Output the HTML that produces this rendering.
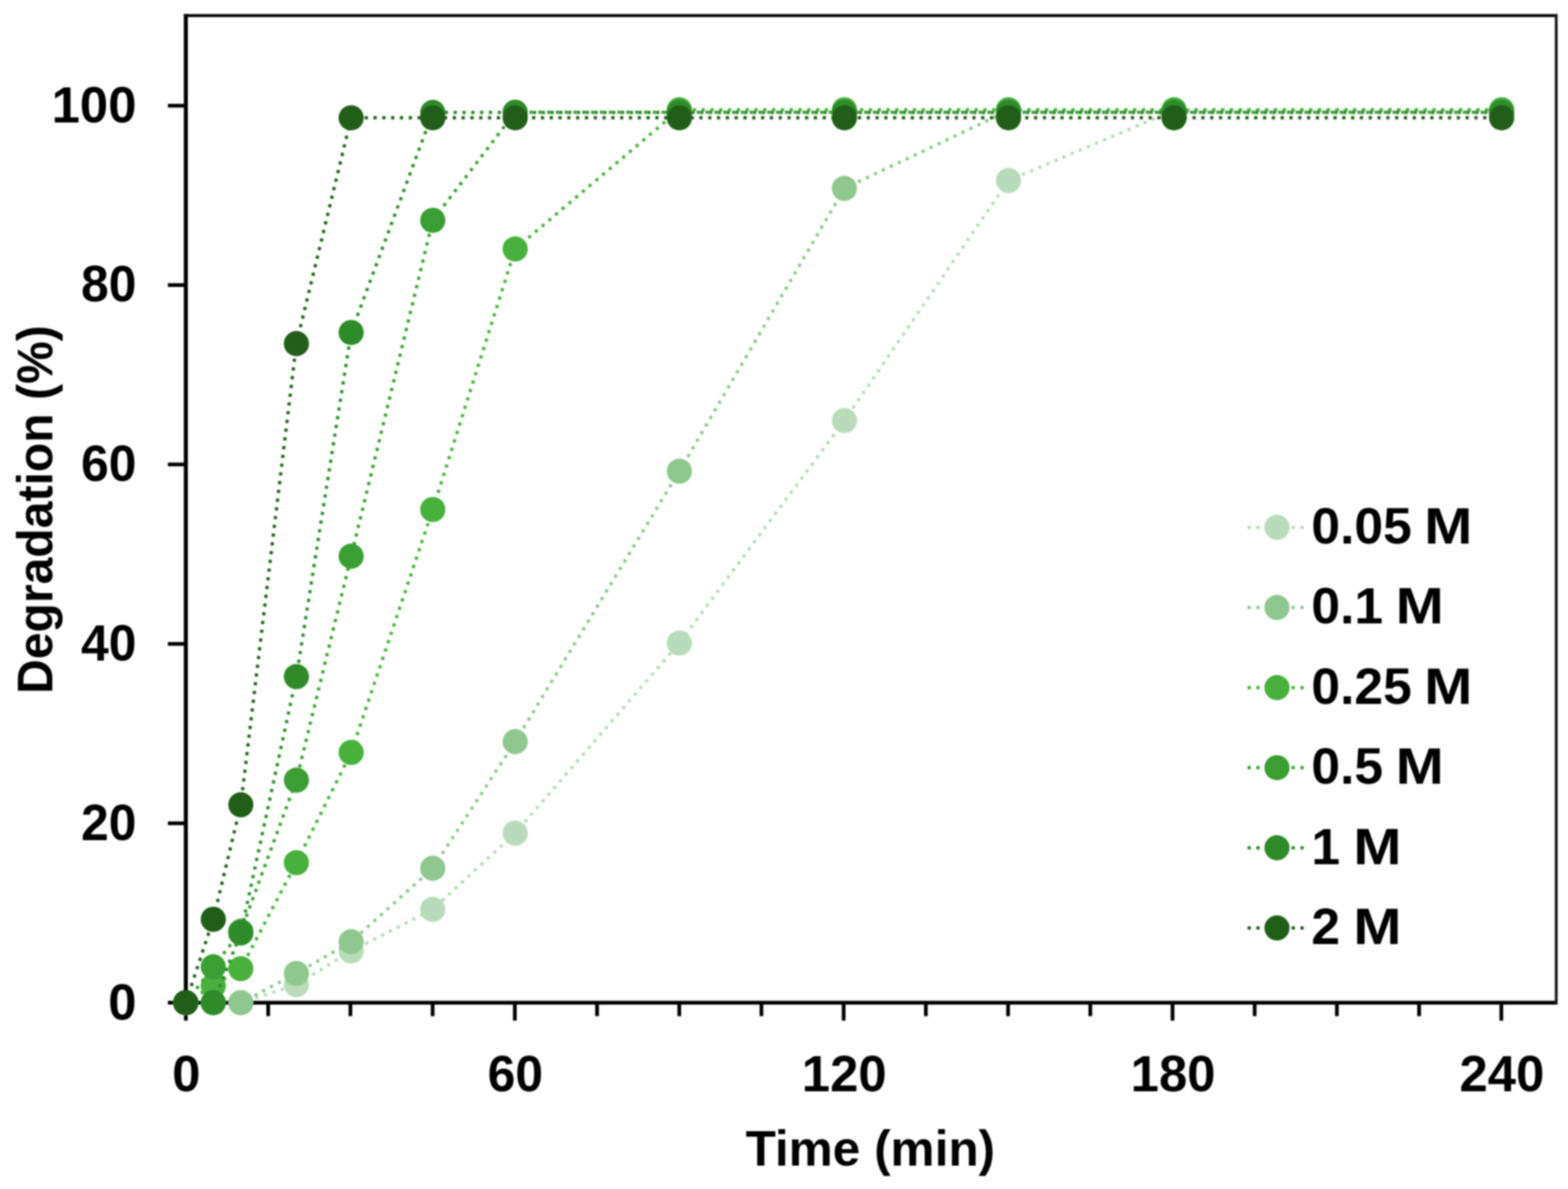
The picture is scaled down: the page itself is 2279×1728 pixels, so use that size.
<!DOCTYPE html>
<html lang="en"><head><meta charset="utf-8"><title>Degradation (%) vs Time (min)</title>
<style>
html,body{margin:0;padding:0;background:#fff;}
body{width:2279px;height:1728px;overflow:hidden;}
svg{display:block;filter:blur(0.9px);}
text{font-family:'Liberation Sans', Arial, Helvetica, sans-serif;font-weight:bold;fill:#000;}
</style></head><body>
<svg width="2279" height="1728" viewBox="0 0 2279 1728">
<rect x="-10" y="-10" width="2299" height="1748" fill="#ffffff"/>
<g id="axes" stroke="#000" fill="none" stroke-linecap="butt">
<line x1="270.1" y1="20.4" x2="270.1" y2="1459.9" stroke-width="5.8"/>
<line x1="267.2" y1="1457.2" x2="2264.0" y2="1457.2" stroke-width="5.4"/>
<line x1="267.2" y1="22.6" x2="2264.0" y2="22.6" stroke-width="4.4"/>
<line x1="2261.9" y1="20.4" x2="2261.9" y2="1459.9" stroke-width="4.2" stroke="#1c1c1c"/>
<line x1="244" y1="1457.2" x2="270.1" y2="1457.2" stroke-width="5.4"/>
<line x1="244" y1="1196.5" x2="270.1" y2="1196.5" stroke-width="5.4"/>
<line x1="244" y1="935.8" x2="270.1" y2="935.8" stroke-width="5.4"/>
<line x1="244" y1="675.0" x2="270.1" y2="675.0" stroke-width="5.4"/>
<line x1="244" y1="414.3" x2="270.1" y2="414.3" stroke-width="5.4"/>
<line x1="244" y1="153.6" x2="270.1" y2="153.6" stroke-width="5.4"/>
<line x1="270.1" y1="1457.2" x2="270.1" y2="1483.3" stroke-width="5.4"/>
<line x1="389.8" y1="1457.2" x2="389.8" y2="1476.8" stroke-width="5.4"/>
<line x1="509.3" y1="1457.2" x2="509.3" y2="1476.8" stroke-width="5.4"/>
<line x1="628.8" y1="1457.2" x2="628.8" y2="1476.8" stroke-width="5.4"/>
<line x1="748.3" y1="1457.2" x2="748.3" y2="1483.3" stroke-width="5.4"/>
<line x1="867.8" y1="1457.2" x2="867.8" y2="1476.8" stroke-width="5.4"/>
<line x1="987.3" y1="1457.2" x2="987.3" y2="1476.8" stroke-width="5.4"/>
<line x1="1106.7" y1="1457.2" x2="1106.7" y2="1476.8" stroke-width="5.4"/>
<line x1="1226.2" y1="1457.2" x2="1226.2" y2="1483.3" stroke-width="5.4"/>
<line x1="1345.7" y1="1457.2" x2="1345.7" y2="1476.8" stroke-width="5.4"/>
<line x1="1465.2" y1="1457.2" x2="1465.2" y2="1476.8" stroke-width="5.4"/>
<line x1="1584.7" y1="1457.2" x2="1584.7" y2="1476.8" stroke-width="5.4"/>
<line x1="1704.2" y1="1457.2" x2="1704.2" y2="1483.3" stroke-width="5.4"/>
<line x1="1823.6" y1="1457.2" x2="1823.6" y2="1476.8" stroke-width="5.4"/>
<line x1="1943.1" y1="1457.2" x2="1943.1" y2="1476.8" stroke-width="5.4"/>
<line x1="2062.6" y1="1457.2" x2="2062.6" y2="1476.8" stroke-width="5.4"/>
<line x1="2182.1" y1="1457.2" x2="2182.1" y2="1483.3" stroke-width="5.4"/>
</g>
<g id="series">
<g fill="#b8dcb9" stroke="none">
<polyline points="270.0,1457.2 310.0,1457.2 350.0,1457.2 430.8,1431.1 510.4,1382.1 629.0,1321.6 748.8,1210.8 987.4,934.5 1227.3,611.2 1465.8,262.3 1706.4,160.1 2182.5,160.1" fill="none" stroke="#b8dcb9" stroke-width="4.7" stroke-dasharray="4.7 8.1" stroke-linejoin="round"/>
<circle cx="270.0" cy="1457.2" r="18.3"/>
<circle cx="310.0" cy="1457.2" r="18.3"/>
<circle cx="350.0" cy="1457.2" r="18.3"/>
<circle cx="430.8" cy="1431.1" r="18.3"/>
<circle cx="510.4" cy="1382.1" r="18.3"/>
<circle cx="629.0" cy="1321.6" r="18.3"/>
<circle cx="748.8" cy="1210.8" r="18.3"/>
<circle cx="987.4" cy="934.5" r="18.3"/>
<circle cx="1227.3" cy="611.2" r="18.3"/>
<circle cx="1465.8" cy="262.3" r="18.3"/>
<circle cx="1706.4" cy="160.1" r="18.3"/>
<circle cx="2182.5" cy="160.1" r="18.3"/>
</g>
<g fill="#8ec88e" stroke="none">
<polyline points="270.0,1457.2 310.0,1457.2 350.0,1457.2 430.8,1414.7 510.4,1368.6 629.0,1261.9 748.8,1077.9 987.4,684.8 1227.3,273.8 1465.8,160.8 1706.4,160.8 2182.5,160.8" fill="none" stroke="#8ec88e" stroke-width="4.7" stroke-dasharray="4.7 8.1" stroke-linejoin="round"/>
<circle cx="270.0" cy="1457.2" r="18.3"/>
<circle cx="310.0" cy="1457.2" r="18.3"/>
<circle cx="350.0" cy="1457.2" r="18.3"/>
<circle cx="430.8" cy="1414.7" r="18.3"/>
<circle cx="510.4" cy="1368.6" r="18.3"/>
<circle cx="629.0" cy="1261.9" r="18.3"/>
<circle cx="748.8" cy="1077.9" r="18.3"/>
<circle cx="987.4" cy="684.8" r="18.3"/>
<circle cx="1227.3" cy="273.8" r="18.3"/>
<circle cx="1465.8" cy="160.8" r="18.3"/>
<circle cx="1706.4" cy="160.8" r="18.3"/>
<circle cx="2182.5" cy="160.8" r="18.3"/>
</g>
<g fill="#47b13c" stroke="none">
<polyline points="270.0,1457.2 310.0,1432.8 350.0,1407.8 430.8,1253.8 510.4,1093.5 629.0,740.5 748.8,361.8 987.4,159.5 1227.3,159.5 1465.8,159.5 1706.4,159.5 2182.5,159.5" fill="none" stroke="#47b13c" stroke-width="4.7" stroke-dasharray="4.7 8.1" stroke-linejoin="round"/>
<circle cx="270.0" cy="1457.2" r="18.3"/>
<circle cx="310.0" cy="1432.8" r="18.3"/>
<circle cx="350.0" cy="1407.8" r="18.3"/>
<circle cx="430.8" cy="1253.8" r="18.3"/>
<circle cx="510.4" cy="1093.5" r="18.3"/>
<circle cx="629.0" cy="740.5" r="18.3"/>
<circle cx="748.8" cy="361.8" r="18.3"/>
<circle cx="987.4" cy="159.5" r="18.3"/>
<circle cx="1227.3" cy="159.5" r="18.3"/>
<circle cx="1465.8" cy="159.5" r="18.3"/>
<circle cx="1706.4" cy="159.5" r="18.3"/>
<circle cx="2182.5" cy="159.5" r="18.3"/>
</g>
<g fill="#3a9f33" stroke="none">
<polyline points="270.0,1457.2 310.0,1405.1 350.0,1353.6 430.8,1133.8 510.4,808.4 629.0,320.2 748.8,163.1 987.4,163.1 1227.3,163.1 1465.8,163.1 1706.4,163.1 2182.5,163.1" fill="none" stroke="#3a9f33" stroke-width="4.7" stroke-dasharray="4.7 8.1" stroke-linejoin="round"/>
<circle cx="270.0" cy="1457.2" r="18.3"/>
<circle cx="310.0" cy="1405.1" r="18.3"/>
<circle cx="350.0" cy="1353.6" r="18.3"/>
<circle cx="430.8" cy="1133.8" r="18.3"/>
<circle cx="510.4" cy="808.4" r="18.3"/>
<circle cx="629.0" cy="320.2" r="18.3"/>
<circle cx="748.8" cy="163.1" r="18.3"/>
<circle cx="987.4" cy="163.1" r="18.3"/>
<circle cx="1227.3" cy="163.1" r="18.3"/>
<circle cx="1465.8" cy="163.1" r="18.3"/>
<circle cx="1706.4" cy="163.1" r="18.3"/>
<circle cx="2182.5" cy="163.1" r="18.3"/>
</g>
<g fill="#2e8b2a" stroke="none">
<polyline points="270.0,1457.2 310.0,1457.2 350.0,1355.9 430.8,983.3 510.4,483.2 629.0,163.4 748.8,163.4 987.4,163.4 1227.3,163.4 1465.8,163.4 1706.4,163.4 2182.5,163.4" fill="none" stroke="#2e8b2a" stroke-width="4.7" stroke-dasharray="4.7 8.1" stroke-linejoin="round"/>
<circle cx="270.0" cy="1457.2" r="18.3"/>
<circle cx="310.0" cy="1457.2" r="18.3"/>
<circle cx="350.0" cy="1355.9" r="18.3"/>
<circle cx="430.8" cy="983.3" r="18.3"/>
<circle cx="510.4" cy="483.2" r="18.3"/>
<circle cx="629.0" cy="163.4" r="18.3"/>
<circle cx="748.8" cy="163.4" r="18.3"/>
<circle cx="987.4" cy="163.4" r="18.3"/>
<circle cx="1227.3" cy="163.4" r="18.3"/>
<circle cx="1465.8" cy="163.4" r="18.3"/>
<circle cx="1706.4" cy="163.4" r="18.3"/>
<circle cx="2182.5" cy="163.4" r="18.3"/>
</g>
<g fill="#215f18" stroke="none">
<polyline points="270.0,1457.2 310.0,1336.0 350.0,1169.6 430.8,499.4 510.4,171.2 629.0,171.2 748.8,171.2 987.4,171.2 1227.3,171.2 1465.8,171.2 1706.4,171.2 2182.5,171.2" fill="none" stroke="#215f18" stroke-width="4.7" stroke-dasharray="4.7 8.1" stroke-linejoin="round"/>
<circle cx="270.0" cy="1457.2" r="18.3"/>
<circle cx="310.0" cy="1336.0" r="18.3"/>
<circle cx="350.0" cy="1169.6" r="18.3"/>
<circle cx="430.8" cy="499.4" r="18.3"/>
<circle cx="510.4" cy="171.2" r="18.3"/>
<circle cx="629.0" cy="171.2" r="18.3"/>
<circle cx="748.8" cy="171.2" r="18.3"/>
<circle cx="987.4" cy="171.2" r="18.3"/>
<circle cx="1227.3" cy="171.2" r="18.3"/>
<circle cx="1465.8" cy="171.2" r="18.3"/>
<circle cx="1706.4" cy="171.2" r="18.3"/>
<circle cx="2182.5" cy="171.2" r="18.3"/>
</g>
</g>
<g id="ylabels" font-size="75" text-anchor="end">
<text transform="translate(198.3,1481.8) scale(0.986,1)">0</text>
<text transform="translate(198.3,1220.5) scale(0.966,1)">20</text>
<text transform="translate(198.3,959.8) scale(0.966,1)">40</text>
<text transform="translate(198.3,699.0) scale(0.966,1)">60</text>
<text transform="translate(198.3,438.3) scale(0.966,1)">80</text>
<text transform="translate(198.3,178.2) scale(0.986,1)">100</text>
</g>
<g id="xlabels" font-size="75" text-anchor="middle">
<text transform="translate(270.9,1585.6) scale(0.986,1)">0</text>
<text transform="translate(749.1,1585.6) scale(0.966,1)">60</text>
<text transform="translate(1227.0,1585.6) scale(0.986,1)">120</text>
<text transform="translate(1705.0,1585.6) scale(0.986,1)">180</text>
<text transform="translate(2182.9,1585.6) scale(0.986,1)">240</text>
</g>
<text id="xtitle" x="1265" y="1694.3" font-size="72" text-anchor="middle">Time (min)</text>
<text id="ytitle" transform="translate(76.4,1008.6) rotate(-90)" font-size="72" textLength="536" lengthAdjust="spacingAndGlyphs">Degradation (%)</text>
<g id="legend" font-size="75">
<line x1="1813.3" y1="766.3" x2="1897" y2="766.3" stroke="#b8dcb9" stroke-width="4.7" stroke-dasharray="4.7 8.1"/>
<circle cx="1856" cy="766.3" r="18.3" fill="#b8dcb9"/>
<text x="1906" y="789.9">0.05 <tspan x="2070" textLength="70" lengthAdjust="spacingAndGlyphs">M</tspan></text>
<line x1="1813.3" y1="882.8" x2="1897" y2="882.8" stroke="#8ec88e" stroke-width="4.7" stroke-dasharray="4.7 8.1"/>
<circle cx="1856" cy="882.8" r="18.3" fill="#8ec88e"/>
<text x="1906" y="906.4">0.1 <tspan x="2028.5" textLength="70" lengthAdjust="spacingAndGlyphs">M</tspan></text>
<line x1="1813.3" y1="999.3" x2="1897" y2="999.3" stroke="#47b13c" stroke-width="4.7" stroke-dasharray="4.7 8.1"/>
<circle cx="1856" cy="999.3" r="18.3" fill="#47b13c"/>
<text x="1906" y="1022.9">0.25 <tspan x="2070" textLength="70" lengthAdjust="spacingAndGlyphs">M</tspan></text>
<line x1="1813.3" y1="1115.7" x2="1897" y2="1115.7" stroke="#3a9f33" stroke-width="4.7" stroke-dasharray="4.7 8.1"/>
<circle cx="1856" cy="1115.7" r="18.3" fill="#3a9f33"/>
<text x="1906" y="1139.3">0.5 <tspan x="2028.5" textLength="70" lengthAdjust="spacingAndGlyphs">M</tspan></text>
<line x1="1813.3" y1="1232.1" x2="1897" y2="1232.1" stroke="#2e8b2a" stroke-width="4.7" stroke-dasharray="4.7 8.1"/>
<circle cx="1856" cy="1232.1" r="18.3" fill="#2e8b2a"/>
<text x="1906" y="1255.7">1 <tspan x="1967" textLength="70" lengthAdjust="spacingAndGlyphs">M</tspan></text>
<line x1="1813.3" y1="1348.6" x2="1897" y2="1348.6" stroke="#215f18" stroke-width="4.7" stroke-dasharray="4.7 8.1"/>
<circle cx="1856" cy="1348.6" r="18.3" fill="#215f18"/>
<text x="1906" y="1372.2">2 <tspan x="1967" textLength="70" lengthAdjust="spacingAndGlyphs">M</tspan></text>
</g>
</svg>
</body></html>
